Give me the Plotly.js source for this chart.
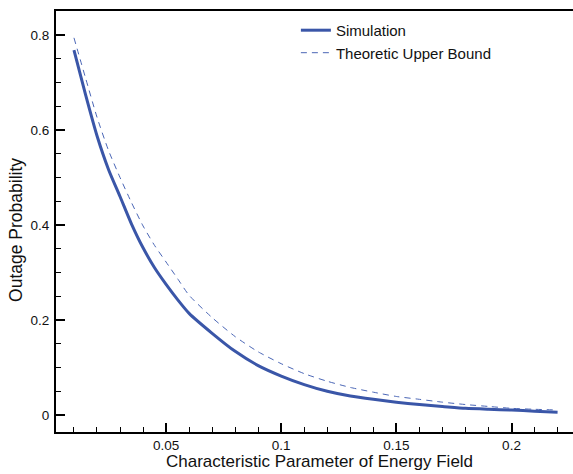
<!DOCTYPE html>
<html>
<head>
<meta charset="utf-8">
<script src="https://cdn.plot.ly/plotly-3.0.1.min.js"></script>
<style>html,body{margin:0;padding:0;background:#fff;}#chart{width:573px;height:474px;}</style>
</head>
<body>
<div id="chart"></div>
<script>
const xParam = [0.01,0.015,0.02,0.025,0.03,0.035,0.04,0.045,0.05,0.055,0.06,0.07,0.08,0.09,0.10,0.11,0.12,0.13,0.14,0.15,0.16,0.17,0.18,0.19,0.20,0.21,0.22];
const simulation = [0.768,0.675,0.588,0.517,0.46,0.402,0.352,0.31,0.275,0.243,0.214,0.172,0.134,0.104,0.082,0.064,0.050,0.040,0.033,0.027,0.022,0.018,0.014,0.012,0.0105,0.008,0.006];
const upperBound = [0.794,0.71,0.627,0.557,0.50,0.447,0.398,0.357,0.322,0.287,0.252,0.205,0.165,0.133,0.108,0.087,0.071,0.058,0.048,0.039,0.033,0.027,0.022,0.018,0.014,0.012,0.0105];
const seriesNames = ["Simulation","Theoretic Upper Bound"];
const xTitle = "Characteristic Parameter of Energy Field";
const yTitle = "Outage Probability";

const font = "Liberation Sans, Arial, Helvetica, sans-serif";
const traces = [
  {x: xParam, y: simulation, name: seriesNames[0], mode: "lines", line: {color: "#3a56a8", width: 3, shape: "spline", smoothing: 0.6}},
  {x: xParam, y: upperBound, name: seriesNames[1], mode: "lines", line: {color: "#4a66b6", width: 1, dash: "6px,5px", shape: "spline", smoothing: 0.6}}
];
const layout = {
  width: 573, height: 474,
  margin: {l: 56, r: 0, t: 11, b: 42, pad: 0},
  paper_bgcolor: "#fff", plot_bgcolor: "#fff",
  font: {family: font, size: 14, color: "#000"},
  showlegend: true,
  legend: {x: 0.464, y: 0.993, xanchor: "left", yanchor: "top", bgcolor: "rgba(0,0,0,0)", font: {family: font, size: 15, color: "#111"}, tracegroupgap: 0, itemwidth: 30},
  xaxis: {
    range: [0.0022, 0.2267], showgrid: false, zeroline: false,
    showline: true, linecolor: "#000", linewidth: 2, mirror: true,
    ticks: "inside", ticklen: 9, tickwidth: 2, tickcolor: "#000",
    tick0: 0, dtick: 0.05, ticklabelstandoff: 0,
    minor: {dtick: 0.01, ticks: "inside", ticklen: 5, tickwidth: 1, tickcolor: "#000", showgrid: false},
    tickfont: {family: font, size: 13.5, color: "#111"}
  },
  yaxis: {
    range: [-0.0358, 0.8505], showgrid: false, zeroline: false,
    showline: true, linecolor: "#000", linewidth: 2,
    ticks: "inside", ticklen: 9, tickwidth: 2, tickcolor: "#000",
    tick0: 0, dtick: 0.2, ticklabelstandoff: 2,
    minor: {dtick: 0.05, ticks: "inside", ticklen: 5, tickwidth: 1, tickcolor: "#000", showgrid: false},
    tickfont: {family: font, size: 13.5, color: "#111"}
  },
  annotations: [
    {text: xTitle, xref: "paper", yref: "paper", x: 0.51, y: -0.0689, xanchor: "center", yanchor: "middle", showarrow: false, font: {family: font, size: 17, color: "#111"}},
    {text: yTitle, xref: "paper", yref: "paper", x: -0.0774, y: 0.48, xanchor: "center", yanchor: "middle", textangle: -90, showarrow: false, font: {family: font, size: 17.5, color: "#111"}}
  ]
};
Plotly.newPlot("chart", traces, layout, {displayModeBar: false, staticPlot: true});
</script>
</body>
</html>
